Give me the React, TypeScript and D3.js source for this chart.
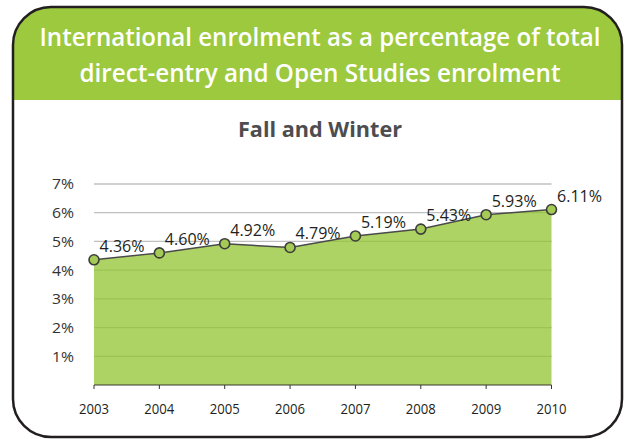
import React from "react";
import * as d3 from "d3";

const years = ["2003", "2004", "2005", "2006", "2007", "2008", "2009", "2010"];
const values = [4.36, 4.6, 4.92, 4.79, 5.19, 5.43, 5.93, 6.11];
const valueLabels = ["4.36%", "4.60%", "4.92%", "4.79%", "5.19%", "5.43%", "5.93%", "6.11%"];
const yTicks = [1, 2, 3, 4, 5, 6, 7];
const titleLines = [
  "International enrolment as a percentage of total",
  "direct-entry and Open Studies enrolment",
];
const subtitle = "Fall and Winter";

const W = 626;
const H = 439;
const FONT = "'Open Sans', 'Noto Sans', sans-serif";

export default function App() {
  const x = d3.scalePoint<string>().domain(years).range([94, 551.5]);
  const y = d3.scaleLinear().domain([0, 7]).range([385, 184]);

  const pts = years.map((yr, i) => ({ yr, v: values[i], l: valueLabels[i] }));
  const area = d3
    .area<{ yr: string; v: number }>()
    .x((d) => x(d.yr) as number)
    .y0(y(0))
    .y1((d) => y(d.v));
  const line = d3
    .line<{ yr: string; v: number }>()
    .x((d) => x(d.yr) as number)
    .y((d) => y(d.v));

  const x0 = x(years[0]) as number;
  const x1 = x(years[years.length - 1]) as number;

  const bx = 13, by = 7, bw = 609, bh = 430, r = 38;

  return (
    <svg width={W} height={H} style={{ position: "absolute", left: 0, top: 0 }}>
      <defs>
        <clipPath id="boxclip">
          <rect x={bx} y={by} width={bw} height={bh} rx={r} ry={r} />
        </clipPath>
        <clipPath id="areaclip">
          <path d={area(pts) || ""} />
        </clipPath>
      </defs>
      <rect x={bx} y={by} width={bw} height={bh} rx={r} ry={r} fill="#fff" />
      <rect x={0} y={0} width={W} height={100} fill="#9cc93d" clipPath="url(#boxclip)" />
      <rect
        x={bx}
        y={by}
        width={bw}
        height={bh}
        rx={r}
        ry={r}
        fill="none"
        stroke="#231f20"
        strokeWidth={2.5}
      />
      {titleLines.map((t, i) => (
        <text
          key={t}
          x={320}
          y={45.5 + i * 36.5}
          textAnchor="middle"
          fill="#fff"
          fontFamily={FONT}
          fontWeight={600}
          fontSize={25}
          textLength={i === 0 ? 561 : 481}
          lengthAdjust="spacingAndGlyphs"
        >
          {t}
        </text>
      ))}
      <text
        x={320}
        y={137}
        textAnchor="middle"
        fill="#4d4d4f"
        fontFamily={FONT}
        fontWeight={700}
        fontSize={21}
        textLength={164}
        lengthAdjust="spacingAndGlyphs"
      >
        {subtitle}
      </text>

      {/* gray gridlines */}
      {yTicks.map((t) => (
        <line key={"g" + t} x1={x0} x2={x1} y1={y(t)} y2={y(t)} stroke="#c0c0c0" strokeWidth={1.3} />
      ))}
      {/* area */}
      <path d={area(pts) || ""} fill="#add365" />
      {/* green gridlines inside area */}
      <g clipPath="url(#areaclip)">
        {yTicks.map((t) => (
          <line key={"gg" + t} x1={x0} x2={x1} y1={y(t)} y2={y(t)} stroke="#9cc453" strokeWidth={1.3} />
        ))}
      </g>
      {/* y tick labels */}
      {yTicks.map((t) => (
        <text
          key={"yl" + t}
          x={74}
          y={y(t)}
          dy="0.36em"
          textAnchor="end"
          fill="#333"
          fontFamily={FONT}
          fontSize={15}
          textLength={22}
          lengthAdjust="spacingAndGlyphs"
        >
          {t + "%"}
        </text>
      ))}
      {/* baseline axis */}
      <line x1={x0} x2={x1} y1={y(0)} y2={y(0)} stroke="#3a3a2a" strokeWidth={1.2} />
      {years.map((yr) => (
        <g key={"t" + yr}>
          <line
            x1={x(yr) as number}
            x2={x(yr) as number}
            y1={y(0)}
            y2={y(0) + 4}
            stroke="#333"
            strokeWidth={1}
          />
          <text
            x={x(yr) as number}
            y={414}
            textAnchor="middle"
            fill="#231f20"
            fontFamily={FONT}
            fontSize={14.5}
            textLength={30}
            lengthAdjust="spacingAndGlyphs"
          >
            {yr}
          </text>
        </g>
      ))}
      {/* line */}
      <path d={line(pts) || ""} fill="none" stroke="#4a4a4a" strokeWidth={1.5} />
      {pts.map((p) => (
        <circle
          key={"c" + p.yr}
          cx={x(p.yr) as number}
          cy={y(p.v)}
          r={5}
          fill="#a3cb55"
          stroke="#3d3d3d"
          strokeWidth={1.6}
        />
      ))}
      {pts.map((p) => (
        <text
          key={"l" + p.yr}
          x={(x(p.yr) as number) + 5.5}
          y={y(p.v) - 8}
          fill="#231f20"
          fontFamily={FONT}
          fontSize={16}
          textLength={45}
          lengthAdjust="spacingAndGlyphs"
        >
          {p.l}
        </text>
      ))}
    </svg>
  );
}
